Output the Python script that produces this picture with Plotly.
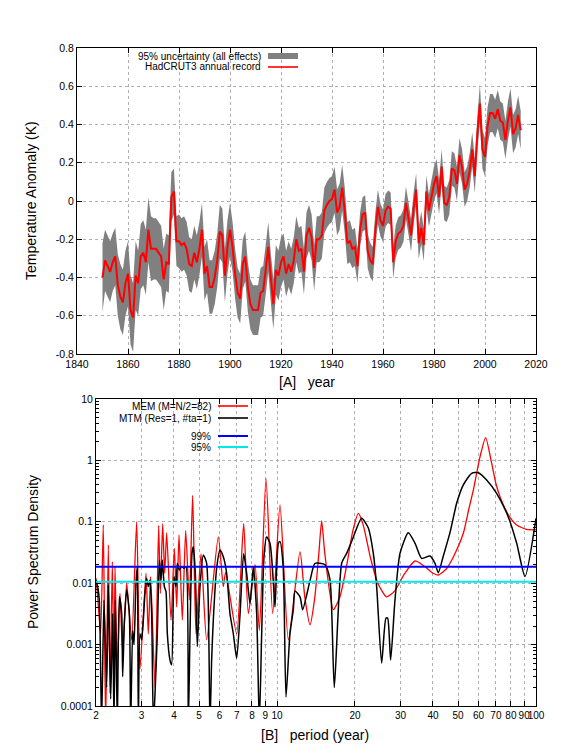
import math
import plotly.graph_objects as go

# ---- panel A: HadCRUT3 annual record ----
years = list(range(1850, 2015))
anomaly = [
    -0.40, -0.31, -0.34, -0.37, -0.32, -0.29, -0.44, -0.50, -0.53, -0.43,
    -0.38, -0.57, -0.61, -0.39, -0.43, -0.29, -0.27, -0.32, -0.15, -0.25,
    -0.25, -0.25, -0.27, -0.29, -0.41, -0.32, -0.33, 0.02, 0.05, -0.21,
    -0.21, -0.23, -0.22, -0.25, -0.33, -0.34, -0.27, -0.32, -0.25, -0.15,
    -0.38, -0.34, -0.45, -0.45, -0.40, -0.31, -0.16, -0.18, -0.39, -0.24,
    -0.15, -0.24, -0.38, -0.48, -0.51, -0.33, -0.29, -0.45, -0.54, -0.57,
    -0.57, -0.57, -0.48, -0.47, -0.36, -0.24, -0.40, -0.54, -0.36, -0.39,
    -0.32, -0.29, -0.38, -0.33, -0.37, -0.31, -0.20, -0.26, -0.25, -0.37,
    -0.18, -0.14, -0.19, -0.35, -0.20, -0.20, -0.18, -0.05, -0.02, 0.00,
    0.01, 0.06, -0.06, -0.03, 0.07, -0.05, -0.22, -0.21, -0.25, -0.24,
    -0.34, -0.15, -0.07, -0.06, -0.26, -0.31, -0.33, -0.15, -0.03, -0.10,
    -0.13, -0.05, -0.03, -0.04, -0.32, -0.21, -0.17, -0.16, -0.13, -0.01,
    -0.09, -0.18, -0.04, 0.06, -0.22, -0.14, -0.23, 0.05, -0.05, 0.02,
    0.09, 0.13, 0.02, 0.18, -0.01, -0.02, 0.02, 0.17, 0.16, 0.09,
    0.24, 0.18, 0.06, 0.09, 0.16, 0.27, 0.13, 0.35, 0.51, 0.27,
    0.23, 0.39, 0.46, 0.46, 0.43, 0.48, 0.42, 0.41, 0.32, 0.42,
    0.49, 0.35, 0.38, 0.45, 0.37,
]
# 95% half-width of the grey band
unc95 = [
    0.18, 0.16, 0.16, 0.16, 0.15, 0.15, 0.16, 0.17, 0.17, 0.17,
    0.17, 0.18, 0.18, 0.18, 0.17, 0.17, 0.17, 0.17, 0.17, 0.17,
    0.16, 0.16, 0.16, 0.16, 0.16, 0.15, 0.15, 0.13, 0.12, 0.13,
    0.14, 0.14, 0.14, 0.14, 0.14, 0.14, 0.14, 0.14, 0.14, 0.14,
    0.14, 0.14, 0.14, 0.14, 0.14, 0.14, 0.14, 0.14, 0.14, 0.14,
    0.14, 0.13, 0.13, 0.13, 0.13, 0.13, 0.13, 0.13, 0.13, 0.13,
    0.13, 0.13, 0.13, 0.13, 0.13, 0.13, 0.13, 0.13, 0.13, 0.13,
    0.13, 0.12, 0.12, 0.12, 0.12, 0.12, 0.12, 0.12, 0.12, 0.12,
    0.12, 0.12, 0.12, 0.12, 0.12, 0.12, 0.12, 0.12, 0.12, 0.12,
    0.12, 0.12, 0.12, 0.12, 0.12, 0.12, 0.11, 0.11, 0.10, 0.10,
    0.09, 0.09, 0.09, 0.09, 0.09, 0.09, 0.09, 0.09, 0.09, 0.085,
    0.085, 0.085, 0.085, 0.085, 0.085, 0.085, 0.085, 0.085, 0.085, 0.085,
    0.085, 0.085, 0.085, 0.085, 0.085, 0.085, 0.085, 0.085, 0.085, 0.085,
    0.09, 0.09, 0.09, 0.09, 0.09, 0.09, 0.09, 0.09, 0.09, 0.09,
    0.09, 0.09, 0.09, 0.09, 0.09, 0.09, 0.09, 0.09, 0.10, 0.10,
    0.10, 0.10, 0.10, 0.10, 0.10, 0.10, 0.10, 0.10, 0.10, 0.10,
    0.10, 0.10, 0.10, 0.10, 0.10,
]
upper = [a + u for a, u in zip(anomaly, unc95)]
lower = [a - u for a, u in zip(anomaly, unc95)]

# ---- panel B: spectra (period in years, PSD) ----
mem_period = [
    2.000, 2.030, 2.084, 2.134, 2.179, 2.232, 2.265, 2.313, 2.347, 2.368,
    2.417, 2.476, 2.535, 2.627, 2.746, 2.871, 2.957, 3.119, 3.184, 3.251,
    3.380, 3.491, 3.543, 3.618, 3.683, 3.749, 3.896, 4.013, 4.098, 4.184,
    4.309, 4.439, 4.586, 4.723, 4.865, 5.086, 5.349, 5.933, 6.203, 6.333,
    6.985, 7.433, 7.749, 8.222, 8.545, 9.067, 9.621, 10.27, 11.06, 12.27,
    12.8, 13.41, 14.0, 14.5, 14.87, 15.3, 16.5, 17.5, 18.6, 19.6,
    20.6, 21.5, 23.0, 24.5, 26.5, 28.5, 31.0, 34.1, 37.0, 40.0,
    42.0, 45.0, 48.0, 52.4, 55.0, 57.3, 60.8, 63.9, 67.4, 70.0,
    72.6, 78.2, 84.2, 92.0, 100.0,
]
mem_psd = [
    0.012, 0.006, 0.0015, 0.089, 0.00005, 0.042, 0.00016, 0.0224, 0.0002, 0.0186,
    0.00034, 0.0068, 0.00072, 0.0100, 0.0012, 0.1005, 0.0004, 0.0145, 0.0015, 0.0128,
    0.0002, 0.087, 0.0068, 0.092, 0.0145, 0.066, 0.0025, 0.037, 0.0041, 0.061,
    0.0025, 0.072, 0.0053, 0.27, 0.0015, 0.03, 0.0012, 0.057, 0.0088, 0.015,
    0.0015, 0.094, 0.0032, 0.020, 0.0017, 0.51, 0.0032, 0.188, 0.0012, 0.0326,
    0.006, 0.0021, 0.006, 0.03, 0.103, 0.03, 0.0037, 0.006, 0.02, 0.07,
    0.137, 0.09, 0.025, 0.01, 0.006, 0.0075, 0.014, 0.023, 0.019, 0.0145,
    0.0136, 0.017, 0.027, 0.065, 0.16, 0.33, 1.15, 2.35, 0.90, 0.42,
    0.257, 0.13, 0.089, 0.075, 0.074,
]
mtm_period = [
    2.000, 2.030, 2.060, 2.102, 2.147, 2.199, 2.232, 2.279, 2.320, 2.347,
    2.375, 2.417, 2.461, 2.513, 2.535, 2.573, 2.627, 2.690, 2.722, 2.771,
    2.804, 2.854, 2.888, 2.914, 2.957, 3.001, 3.046, 3.091, 3.137, 3.184,
    3.232, 3.281, 3.330, 3.380, 3.450, 3.512, 3.565, 3.607, 3.672, 3.727,
    3.771, 3.861, 3.919, 4.001, 4.073, 4.122, 4.196, 4.284, 4.374, 4.452,
    4.545, 4.613, 4.695, 4.751, 4.837, 4.923, 5.041, 5.193, 5.349, 5.510,
    5.592, 5.675, 5.846, 6.022, 6.203, 6.390, 6.582, 6.782, 6.985, 7.194,
    7.433, 7.635, 7.863, 8.101, 8.345, 8.545, 8.724, 8.906, 9.121, 9.396,
    9.676, 9.822, 10.12, 10.27, 10.57, 10.83, 11.22, 11.56, 11.73, 12.27,
    12.56, 13.41, 14.02, 15.32, 16.02, 16.64, 17.77, 18.57, 19.5, 21.22,
    22.5, 23.54, 24.25, 25.35, 26.34, 26.74, 27.46, 28.54, 29.84, 32.14,
    34.1, 36.18, 38.96, 40.73, 41.96, 43.86, 46.54, 49.39, 52.41, 56.43,
    59.87, 64.47, 70.47, 78.16, 84.2, 90.68, 100.0,
]
mtm_psd = [
    0.0113, 0.0088, 0.0053, 0.00005, 0.0053, 0.0002, 0.0094, 0.00013, 0.0032, 0.00005,
    0.0053, 0.00005, 0.006, 0.0032, 0.0003, 0.0022, 0.0078, 0.0032, 0.00005, 0.0017,
    0.001, 0.0100, 0.0186, 0.00005, 0.0015, 0.0012, 0.0025, 0.0068, 0.0120, 0.0088,
    0.0113, 0.0032, 0.00005, 0.00016, 0.0015, 0.0239, 0.0113, 0.0239, 0.0088, 0.0073,
    0.0015, 0.00056, 0.00047, 0.0128, 0.0088, 0.0211, 0.0164, 0.0186, 0.0175, 0.0186,
    0.00005, 0.0015, 0.0306, 0.0394, 0.0145, 0.00093, 0.0088, 0.0288, 0.0211, 0.00005,
    0.00056, 0.0025, 0.0175, 0.0347, 0.027, 0.0145, 0.0032, 0.0015, 0.0006, 0.003,
    0.0306, 0.0145, 0.0047, 0.0186, 0.0032, 0.00005, 0.0015, 0.027, 0.057, 0.0446,
    0.0106, 0.0041, 0.0446, 0.0475, 0.0175, 0.00014, 0.0015, 0.0037, 0.0075, 0.006,
    0.0037, 0.011, 0.0211, 0.020, 0.0113, 0.0002, 0.0211, 0.0306, 0.05, 0.114,
    0.08, 0.0306, 0.0088, 0.0005, 0.0027, 0.0027, 0.00056, 0.0053, 0.0306, 0.0666,
    0.045, 0.0254, 0.0277, 0.0211, 0.0148, 0.0277, 0.0666, 0.20, 0.40, 0.616,
    0.63, 0.48, 0.29, 0.12, 0.045, 0.0128, 0.114,
]
sig_levels = {"99%": 0.0186, "95%": 0.0106}
period_ticks = [2, 3, 4, 5, 6, 7, 8, 9, 10, 20, 30, 40, 50, 60, 70, 80, 90, 100]
psd_ticks = [0.0001, 0.001, 0.01, 0.1, 1, 10]
psd_ticktext = ["0.0001", "0.001", "0.01", "0.1", "1", "10"]

W, H = 581, 752
FONT = "Liberation Sans, Arial, sans-serif"
NARROW = "Liberation Sans Narrow, Liberation Sans, Arial, sans-serif"


def px(x):
    return x / W


def py(y):
    return 1 - y / H


fig = go.Figure()

# uncertainty band + record
fig.add_trace(go.Scatter(x=years, y=lower, mode="lines", line=dict(width=0, color="#808080"),
                         showlegend=False, hoverinfo="skip", xaxis="x", yaxis="y"))
fig.add_trace(go.Scatter(x=years, y=upper, mode="lines", line=dict(width=0, color="#808080"),
                         fill="tonexty", fillcolor="#808080", showlegend=False,
                         xaxis="x", yaxis="y"))
fig.add_trace(go.Scatter(x=years, y=anomaly, mode="lines", line=dict(width=2, color="#ff0000"),
                         showlegend=False, xaxis="x", yaxis="y"))

# spectra
fig.add_trace(go.Scatter(x=mem_period, y=mem_psd, mode="lines",
                         line=dict(width=1.3, color="#ff0000", shape="spline", smoothing=0.6),
                         showlegend=False, xaxis="x2", yaxis="y2"))
fig.add_trace(go.Scatter(x=mtm_period, y=mtm_psd, mode="lines",
                         line=dict(width=1.5, color="#000000", shape="spline", smoothing=0.6),
                         showlegend=False, xaxis="x2", yaxis="y2"))
fig.add_trace(go.Scatter(x=[2, 100], y=[sig_levels["99%"]] * 2, mode="lines",
                         line=dict(width=2, color="#0000ff"), showlegend=False,
                         xaxis="x2", yaxis="y2"))
fig.add_trace(go.Scatter(x=[2, 100], y=[sig_levels["95%"]] * 2, mode="lines",
                         line=dict(width=2, color="#00e8e8"), showlegend=False,
                         xaxis="x2", yaxis="y2"))

axis_common = dict(showline=True, linecolor="black", linewidth=1, mirror="ticks",
                   ticks="inside", ticklen=5, tickcolor="black", automargin=False,
                   tickangle=0,
                   showgrid=True, gridcolor="#b0b0b0", griddash="dot", gridwidth=1,
                   zeroline=False)
tick_font = dict(size=10.5, color="black", family=FONT)

fig.update_layout(
    template="none",
    width=W, height=H,
    margin=dict(l=0, r=0, t=0, b=0, pad=0, autoexpand=False),
    paper_bgcolor="white", plot_bgcolor="white",
    font=dict(family=FONT, color="black"),
    showlegend=False,
    xaxis=dict(domain=[px(77), px(536)], range=[1840, 2020], tickvals=list(range(1840, 2021, 20)),
               anchor="y", tickfont=tick_font, **axis_common),
    yaxis=dict(domain=[py(354), py(48)], range=[-0.8, 0.8],
               tickvals=[-0.8, -0.6, -0.4, -0.2, 0, 0.2, 0.4, 0.6, 0.8],
               ticktext=["-0.8", "-0.6", "-0.4", "-0.2", "0", "0.2", "0.4", "0.6", "0.8"],
               anchor="x", tickfont=tick_font, **axis_common),
    # period labels are crowded near 90/100, so this axis uses the narrow face
    xaxis2=dict(domain=[px(96), px(536)], type="log", range=[math.log10(2), 2],
                tickvals=period_ticks, ticktext=[str(t) for t in period_ticks],
                anchor="y2", tickfont=dict(size=10, color="black", family=NARROW),
                **axis_common),
    yaxis2=dict(domain=[py(706), py(399)], type="log", range=[-4, 1],
                tickvals=psd_ticks, ticktext=psd_ticktext, anchor="x2", tickfont=tick_font,
                minor=dict(ticks="inside", ticklen=3, tickcolor="black", showgrid=False,
                           tickvals=[m * 10 ** e for e in range(-4, 1) for m in range(2, 10)]),
                **axis_common),
)

ann = []
# axis titles
ann.append(dict(text="Temperature Anomaly (K)", x=px(31), y=py(201), textangle=-90,
                font=dict(size=14)))
ann.append(dict(text="[A]\u00a0\u00a0\u00a0year", x=px(307), y=py(382), font=dict(size=14)))
ann.append(dict(text="Power Spectrum Density", x=px(33), y=py(552), textangle=-90,
                font=dict(size=14)))
ann.append(dict(text="[B]\u00a0\u00a0\u00a0period (year)", x=px(315), y=py(735),
                font=dict(size=14)))

# gnuplot-style keys: text right-aligned, sample to the right
keys = [
    ("95% uncertainty (all effects)", 262, 56, "box", "#808080"),
    ("HadCRUT3 annual record", 262, 67, "line", "#ff0000"),
    ("MEM (M=N/2=82)", 212, 406, "line", "#ff0000"),
    ("MTM (Res=1, #ta=1)", 212, 418, "line", "#000000"),
    ("99%", 212, 436, "line2", "#0000ff"),
    ("95%", 212, 447, "line2", "#00e8e8"),
]
shapes = []
for text, xr, yc, kind, col in keys:
    ann.append(dict(text=text, x=px(xr), y=py(yc), xanchor="right", font=dict(size=10)))
    x0 = xr + 6
    x1 = x0 + 30
    if kind == "box":
        shapes.append(dict(type="rect", xref="paper", yref="paper", x0=px(x0), x1=px(x1),
                           y0=py(yc + 3), y1=py(yc - 3), fillcolor=col, line=dict(width=0)))
    else:
        w = 2 if kind == "line2" else 1.6
        shapes.append(dict(type="line", xref="paper", yref="paper", x0=px(x0), x1=px(x1),
                           y0=py(yc), y1=py(yc), line=dict(color=col, width=w)))

for a in ann:
    a.update(xref="paper", yref="paper", showarrow=False, borderpad=0)
    a.setdefault("xanchor", "center")
    a["yanchor"] = "middle"
    a["font"] = dict(family=FONT, color="black", **a["font"])

fig.update_layout(annotations=ann, shapes=shapes)
# drop the default 8px page margin so the figure sits at the window's corner
fig.write_html("out.html", config={"displayModeBar": False},
               post_script="document.body.style.margin = '0';")
